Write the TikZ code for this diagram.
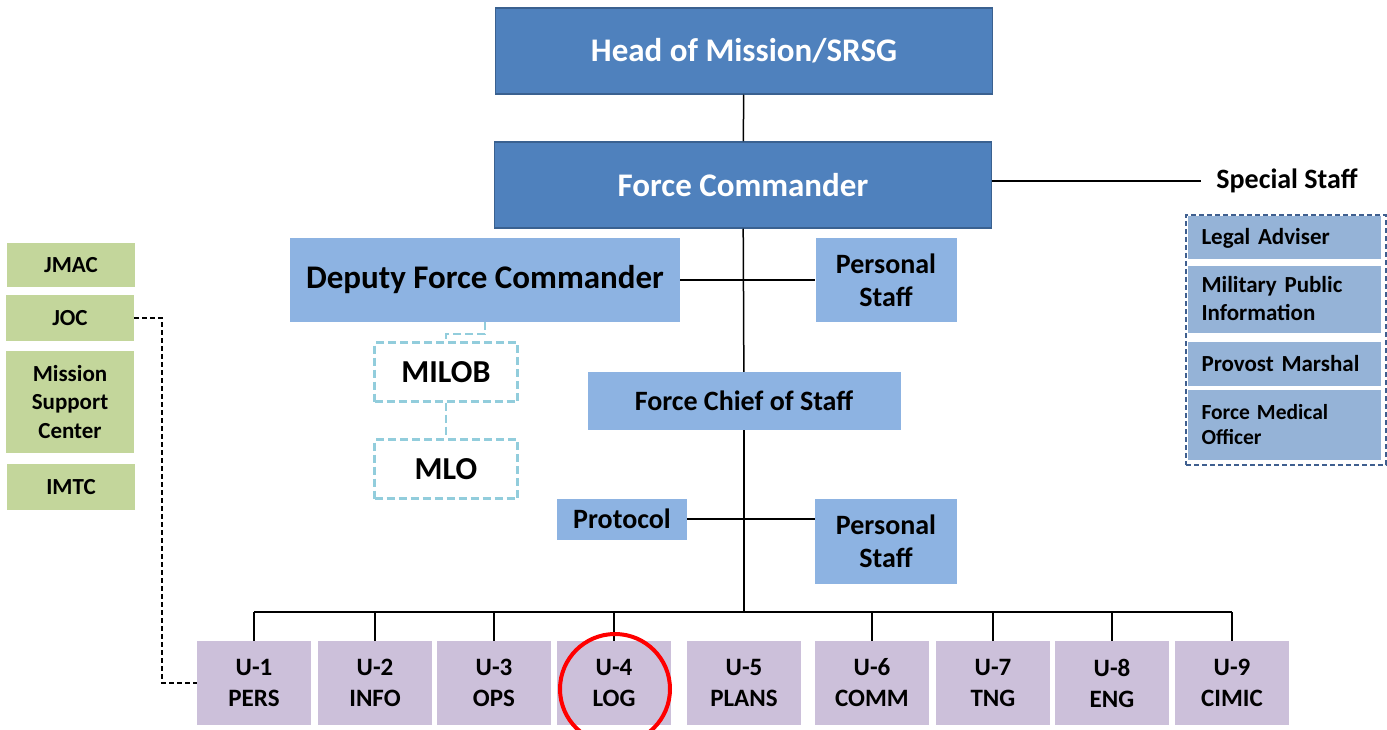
\documentclass[tikz,border=0pt]{standalone}
\usepackage{fontspec}
\setmainfont{Carlito}
\definecolor{hqblue}{HTML}{4F81BD}
\definecolor{hqedge}{HTML}{3A6190}
\definecolor{stafffill}{HTML}{8DB3E2}
\definecolor{specfill}{HTML}{95B3D7}
\definecolor{specedge}{HTML}{3F5F8F}
\definecolor{cellfill}{HTML}{C3D69B}
\definecolor{unitfill}{HTML}{CCC0DA}
\definecolor{obsedge}{HTML}{92CDDC}
\begin{document}
\begin{tikzpicture}[x=1pt,y=-1pt,
  box/.style={inner sep=0pt, align=center},
  hq/.style={box, fill=hqblue, draw=hqedge, line width=1.5pt, text=white,
    minimum width=497, minimum height=86, font=\bfseries\fontsize{33}{36}\selectfont},
  staff/.style={box, fill=stafffill, font=\bfseries\fontsize{28}{33}\selectfont},
  obs/.style={box, draw=obsedge, line width=2.2pt, dash pattern=on 8pt off 4pt,
    minimum width=143, minimum height=59, font=\bfseries\fontsize{32}{34}\selectfont},
  cell/.style={box, fill=cellfill, minimum width=128, font=\bfseries\fontsize{23}{28.5}\selectfont},
  spec/.style={inner xsep=14pt, inner ysep=0pt, text width=165, align=left,
    fill=specfill, font=\bfseries\fontsize{23}{28}\selectfont},
  unit/.style={box, fill=unitfill, minimum width=114, minimum height=84,
    font=\bfseries\fontsize{25}{31}\selectfont}]
\useasboundingbox (0,0) rectangle (1387,730);

% command line
\node[hq] (hom) at (744,51) {Head of Mission/SRSG};
\node[hq] (fc) at (743,185) {Force Commander};
\node[staff, minimum width=390, minimum height=84, font=\bfseries\fontsize{33}{36}\selectfont] (dfc) at (485,280) {Deputy Force Commander};
\node[staff, minimum width=141, minimum height=84] (ps1) at (886,280) {Personal\\Staff};
\node[staff, minimum width=313, minimum height=58] (fcos) at (744,401) {Force Chief of Staff};
\node[staff, minimum width=130, minimum height=41] (prot) at (622,519) {Protocol};
\node[staff, minimum width=142, minimum height=85] (ps2) at (886,541) {Personal\\Staff};
\coordinate (bus) at (744,612);

% observers
\node[obs] (milob) at (446,372) {MILOB};
\node[obs] (mlo) at (446,469) {MLO};

% special staff
\node[font=\bfseries\fontsize{28}{30}\selectfont, inner xsep=15pt] (sstaff) at (1287,181) {Special Staff};
\node[draw=specedge, line width=2.2pt, dash pattern=on 5pt off 3pt, minimum width=200, minimum height=250] (sgroup) at (1286,340) {};
\node[spec, minimum height=43] (legal) at (1284,238) {Legal Adviser};
\node[spec, minimum height=67] (mpi) at (1284,299) {Military Public\\Information};
\node[spec, minimum height=44] (provost) at (1284,364) {Provost Marshal};
\node[spec, minimum height=70, font=\bfseries\fontsize{21.5}{25}\selectfont] (fmo) at (1284,425) {Force Medical\\Officer};

% mission cells
\node[cell, minimum height=44] (jmac) at (71,265) {JMAC};
\node[cell, minimum height=46] (joc) at (70,318) {JOC};
\node[cell, minimum height=102] (msc) at (70,402) {Mission\\Support\\Center};
\node[cell, minimum height=46] (imtc) at (71,487) {IMTC};

% staff branches
\node[unit] (u1) at (254,683) {U-1\\PERS};
\node[unit] (u2) at (375,683) {U-2\\INFO};
\node[unit] (u3) at (494,683) {U-3\\OPS};
\node[unit] (u4) at (614,683) {U-4\\LOG};
\node[unit] (u5) at (744,683) {U-5\\PLANS};
\node[unit] (u6) at (872,683) {U-6\\COMM};
\node[unit] (u7) at (993,683) {U-7\\TNG};
\node[unit] (u8) at (1112,683) {U-8\\ENG};
\node[unit] (u9) at (1232,683) {U-9\\CIMIC};

% connectors
\draw[line width=1.5pt] (hom) -- (fc);
\draw[line width=1.5pt] (fc) -- (fcos);
\draw[line width=1.5pt] (fcos) -- (bus);
\draw[line width=1.5pt] (fc.east |- sstaff) -- (sstaff.west);
\draw[line width=1.5pt] (dfc.east) -- (ps1.west);
\draw[line width=1.5pt] (prot.east) -- (prot.east -| ps2.west);
\draw[line width=1.5pt] (u1.north |- bus) -- (u9.north |- bus);
\draw[line width=1.5pt] (u1.north) -- (u1.north |- bus);
\draw[line width=1.5pt] (u2.north) -- (u2.north |- bus);
\draw[line width=1.5pt] (u3.north) -- (u3.north |- bus);
\draw[line width=1.5pt] (u4.north) -- (u4.north |- bus);
\draw[line width=1.5pt] (u6.north) -- (u6.north |- bus);
\draw[line width=1.5pt] (u7.north) -- (u7.north |- bus);
\draw[line width=1.5pt] (u8.north) -- (u8.north |- bus);
\draw[line width=1.5pt] (u9.north) -- (u9.north |- bus);
\draw[obsedge, line width=2.2pt, dash pattern=on 8pt off 4pt] (dfc.south) -- ++(0,12) -| (milob.north);
\draw[obsedge, line width=2.2pt, dash pattern=on 8pt off 4pt] (milob) -- (mlo);
\coordinate (jbend) at (162,318);
\draw[line width=1.5pt, dash pattern=on 5pt off 3pt] (joc.east) -- (jbend) |- (u1.west);

% highlight
\draw[red, line width=4pt] (615,689) circle (55);
\end{tikzpicture}
\end{document}
